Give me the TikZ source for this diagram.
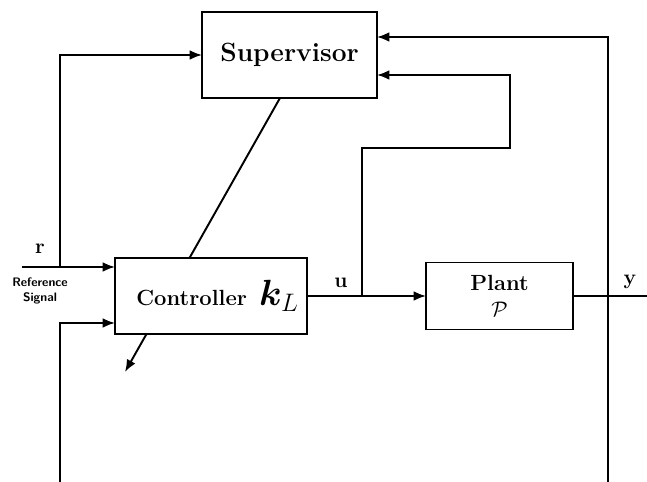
\documentclass[tikz,border=0pt]{standalone}
\usepackage{amsmath}
\usepackage{bm}
\usetikzlibrary{calc,arrows.meta}

\tikzset{
  block/.style={draw,fill=white,rectangle,inner sep=0pt,outer sep=0pt},
  sig/.style={font=\bfseries\fontsize{12}{14}\selectfont}
}

\begin{document}
\begin{tikzpicture}[x=0.02cm,y=-0.02cm,line width=1.1pt,>={Latex[length=7pt,width=5.5pt]}]
    \useasboundingbox (0,0) rectangle (647,482);

    \coordinate (adtop) at (280,98);
    \coordinate (adbot) at (125,372);
    \draw[->] (adtop) -- (adbot);

    \node[block,minimum width=3.5cm,minimum height=1.72cm,font=\fontsize{15}{17}\selectfont\bfseries] (sup) at (289.5,55) {Supervisor};
    \node[block,minimum width=3.84cm,minimum height=1.52cm,font=\fontsize{12.5}{14}\selectfont\bfseries] (ctrl) at (211,296) {\hspace{0.6em}Controller\;\;{\fontsize{20}{22}\selectfont$\bm{k}_{\scriptstyle L}$}};
    \node[block,minimum width=2.94cm,minimum height=1.34cm,align=center,font=\fontsize{12.5}{14}\selectfont\bfseries] (plant) at (499.5,296) {Plant\\[1pt]$\mathcal{P}$};

    \coordinate (rin) at (22,267);
    \coordinate (rsplit) at (60,267);
    \coordinate (fbleft) at (60,482);
    \coordinate (usplit) at (362,296);
    \coordinate (ubend) at (510,148);
    \coordinate (yout) at (647,296);
    \coordinate (fbright) at (608,482);

    \draw[->] (rin) -- (rin -| ctrl.west);
    \draw[->] (rsplit) |- (sup.west);
    \draw[->] (fbleft) |- ($(ctrl.west)+(0,27)$);
    \draw[->] (ctrl.east) -- (plant.west);
    \draw[->] (usplit) |- (ubend) |- ($(sup.east)+(0,20)$);
    \draw (plant.east) -- (yout);
    \draw[->] (fbright) |- ($(sup.east)+(0,-18)$);

    \node[sig] (rlab) at (40,249) {r};
    \node[align=center,font=\sffamily\bfseries\fontsize{7}{8.5}\selectfont] (reflab) at (40,291) {Reference\\Signal};
    \node[sig] (ulab) at (341,283) {u};
    \node[sig] (ylab) at (630,282) {y};
\end{tikzpicture}
\end{document}
